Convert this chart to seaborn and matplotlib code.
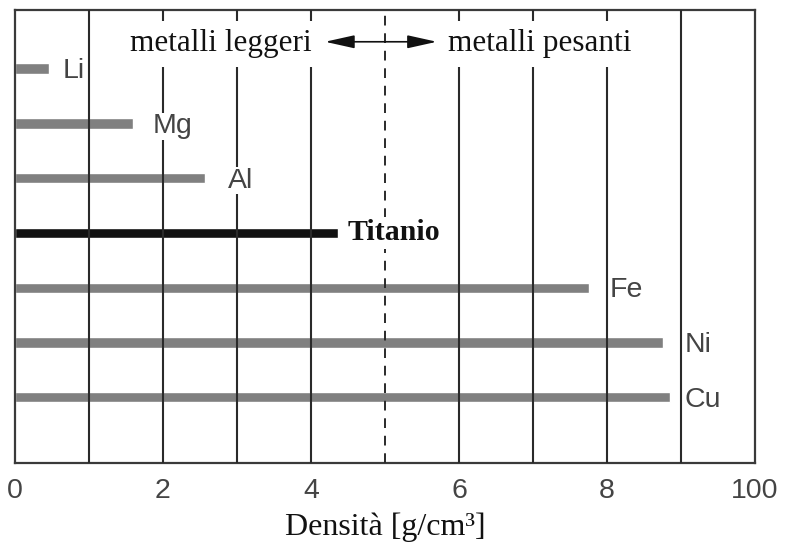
import matplotlib
matplotlib.use("Agg")
import matplotlib.pyplot as plt
import seaborn as sns
import pandas as pd

# ---- data ----
metals = ["Li", "Mg", "Al", "Titanio", "Fe", "Ni", "Cu"]
density = [0.46, 1.60, 2.57, 4.37, 7.76, 8.76, 8.85]
bar_colors = ["#808080", "#808080", "#808080", "#111111", "#808080", "#808080", "#808080"]
label_x = [0.64, 1.86, 2.88, 4.50, 8.04, 9.05, 9.05]
xticks = [0, 2, 4, 6, 8, 10]
xtick_labels = ["0", "2", "4", "6", "8", "100"]
grid_x = [1, 2, 3, 4, 6, 7, 8, 9]
divider_x = 5
xlabel = "Densità [g/cm³]"
light_text = "metalli leggeri"
heavy_text = "metalli pesanti"

df = pd.DataFrame({"metal": metals, "density": density})

sns.set_theme(style="white")
plt.rcParams["font.family"] = ["Liberation Sans", "DejaVu Sans"]

fig = plt.figure(figsize=(7.93, 5.47), dpi=100)
ax = fig.add_axes([15 / 793, 1 - 463 / 547, 740 / 793, 453 / 547])

sns.barplot(data=df, x="density", y="metal", hue="metal", order=metals,
            palette=dict(zip(metals, bar_colors)), legend=False,
            width=0.19, orient="h", ax=ax, saturation=1, zorder=2)

ax.set_xlim(0, 10)
ax.set_ylim(7.2, -1.07)

# grid lines
for gx in grid_x:
    ax.axvline(gx, color="#2a2a2a", lw=1.5, zorder=3)
ax.axvline(divider_x, color="#2a2a2a", lw=1.4, ls=(0, (5, 4)), zorder=3)

serif = ["Liberation Serif", "DejaVu Serif"]

# labels of bars
for i, (m, lx) in enumerate(zip(metals, label_x)):
    if m == "Titanio":
        ax.text(lx, i, m, ha="left", va="center", fontsize=21.5, fontweight="bold",
                family=serif, color="#111111", zorder=5,
                bbox=dict(facecolor="white", edgecolor="none", pad=2))
    else:
        ax.text(lx, i + 0.05, m, ha="left", va="center", fontsize=20.5, color="#444444",
                zorder=5, bbox=dict(facecolor="white", edgecolor="none", pad=0.5))

# region texts
ax.text(2.78, -0.45, light_text, ha="center", va="center", fontsize=22.5,
        family=serif, color="#111111", zorder=5,
        bbox=dict(facecolor="white", edgecolor="none", pad=6))
ax.text(7.09, -0.45, heavy_text, ha="center", va="center", fontsize=22.5,
        family=serif, color="#111111", zorder=5,
        bbox=dict(facecolor="white", edgecolor="none", pad=6))
ax.annotate("", xy=(4.19, -0.49), xytext=(5.70, -0.49),
            arrowprops=dict(arrowstyle="<|-|>,head_length=0.9,head_width=0.2",
                            mutation_scale=20, color="#111111", lw=1.2,
                            shrinkA=0, shrinkB=0), zorder=6)

ax.set_xticks(xticks)
ax.set_xticklabels(xtick_labels, fontsize=20.5, color="#444444")
ax.set_yticks([])
ax.set_ylabel("")
ax.set_xlabel(xlabel, fontsize=23, family=serif, color="#111111", labelpad=6)
ax.tick_params(axis="x", length=0, pad=11)

for s in ax.spines.values():
    s.set_visible(True)
    s.set_color("#3a3a3a")
    s.set_linewidth(1.6)

fig.savefig("out.png", dpi=100)
